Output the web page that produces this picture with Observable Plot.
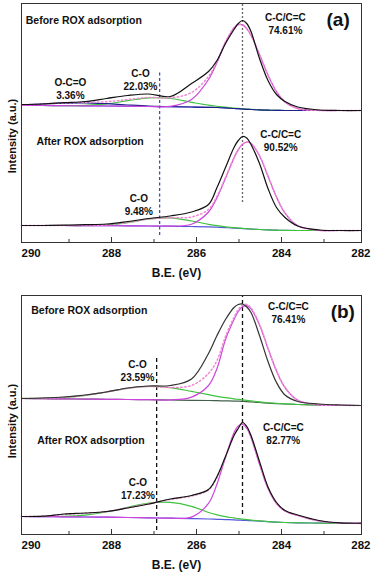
<!DOCTYPE html>
<html><head><meta charset="utf-8">
<script src="https://cdn.jsdelivr.net/npm/d3@7"></script>
<script src="https://cdn.jsdelivr.net/npm/@observablehq/plot@0.6"></script>
<style>
body{margin:0;background:#fff;}
#chart{width:373px;}
#chart svg{display:block;}
#chart svg + svg{margin-top:12px;}
</style></head><body><div id="chart"></div>
<script>
// ---- data (binding energy in eV, intensity in arbitrary units) ----
const BE = [290, 289.5, 289, 288.5, 288, 287.5, 287, 286.5, 286, 285.6, 285.4, 285.2, 285.0, 284.9, 284.8, 284.7, 284.6, 284.4, 284.2, 284.0, 283.8, 283.5, 283, 282.5, 282];
const innerTicks = [288, 286, 284];
const firstTick = [290];
const lastTick = [282];
const minorTicks = [289, 287, 285, 283];

// (a) before ROX adsorption
const aBeforeBg  = [137, 137, 136.8, 136.7, 136.5, 136.3, 136, 135.8, 135.5, 135.2, 135, 134.6, 134, 133.8, 133.5, 133.2, 133, 132.6, 132.3, 132.1, 132, 132, 132, 132, 132];
const aBeforeCC  = [137, 137, 136.8, 136.7, 136.5, 136.3, 136, 136.1, 143, 163, 180, 200, 214.6, 217.9, 217.6, 213.8, 207.2, 188, 167.4, 150.9, 140.5, 133.9, 132.1, 132, 132];
const aBeforeCO  = [137, 137, 136.9, 137.2, 138.6, 141.8, 144.6, 144, 140.2, 137.3, 136.2, 135.3, 134.3, 134.05, 133.65, 133.3, 133.06, 132.63, 132.3, 132.1, 132, 132, 132, 132, 132];
const aBeforeOCO = [137.65, 138.6, 139.4, 139.7, 138.8, 137.5, 136.4, 135.9, 135.5, 135.2, 135, 134.6, 134, 133.8, 133.5, 133.2, 133, 132.6, 132.3, 132.1, 132, 132, 132, 132, 132];
const aBeforeFit = [137.65, 138.6, 139.5, 140.2, 140.8, 143, 145, 144.6, 150, 166, 181.2, 200.7, 214.9, 218.1, 217.75, 213.9, 207.3, 188, 167.4, 150.9, 140.5, 133.9, 132.1, 132, 132];
const aBeforeExp = [138, 138.5, 139.8, 141, 144, 147, 148.5, 146, 159, 171, 182, 199, 213, 219, 222, 219, 211, 184, 162, 148, 141, 135.5, 132.5, 132, 132];

// (a) after ROX adsorption
const aAfterBg  = [17, 17, 17, 16.9, 16.8, 16.7, 16.5, 16.3, 16, 15.6, 15.3, 14.9, 14.4, 14.2, 13.9, 13.7, 13.4, 13, 12.6, 12.3, 12.1, 12, 12, 12, 12];
const aAfterCC  = [17, 17, 17, 16.9, 16.8, 16.7, 16.5, 16.4, 18.3, 30.5, 44.8, 64.3, 84.5, 92.7, 98.1, 100.5, 99.1, 86.7, 66.3, 45.4, 29.4, 16.8, 12.2, 12, 12];
const aAfterCO  = [17, 17, 17, 17, 17.6, 19.9, 23.5, 24.6, 21.5, 18.2, 16.8, 15.7, 14.8, 14.5, 14.1, 13.8, 13.5, 13, 12.6, 12.3, 12.1, 12, 12, 12, 12];
const aAfterFit = [17, 17, 17, 17, 17.6, 19.9, 23.5, 24.7, 25.5, 33.1, 46.3, 65.1, 84.9, 93, 98.3, 100.6, 99.2, 86.7, 66.3, 45.4, 29.4, 16.8, 12.2, 12, 12];
const aAfterExp = [17, 17, 17.3, 17.8, 18.5, 21, 24, 26.5, 30.5, 38, 55, 75, 95, 102, 106, 104.5, 98, 79, 54, 35, 25, 16.5, 12.5, 12, 12];

// (b) before ROX adsorption
const bBeforeBg  = [136, 135.8, 135.6, 135.4, 135.2, 135, 134.8, 134.5, 134.2, 134, 133.8, 133.6, 133.4, 133.3, 133.1, 132.9, 132.6, 132, 131.4, 130.9, 130.5, 130, 129.5, 129.2, 129];
const bBeforeCC  = [136, 135.8, 135.6, 135.4, 135.2, 135, 134.8, 134.6, 137.4, 149, 166, 195, 214.9, 223, 227.8, 228.9, 225.7, 209.6, 186, 163.5, 146.9, 134.3, 129.7, 129.2, 129];
const bBeforeCO  = [136.1, 136.3, 137.1, 139.1, 142.5, 146.2, 148.1, 146.9, 143.1, 139.8, 138.2, 136.8, 135.6, 135.1, 134.6, 134.1, 133.6, 132.6, 131.75, 131.1, 130.6, 130, 129.5, 129.2, 129];
const bBeforeFit = [136.1, 136.3, 137.1, 139.1, 142.5, 146.2, 148.1, 147, 149, 161, 174, 198, 217.1, 224.8, 229.3, 230.1, 226.7, 210.2, 186.4, 163.7, 147, 134.3, 129.7, 129.2, 129];
const bBeforeExp = [136, 136.5, 137.5, 139.5, 142.5, 146.5, 148.5, 149, 155.5, 181, 199, 215, 227, 230, 230.5, 227.5, 222, 199, 173, 152, 139.5, 133, 130.5, 129.5, 129];

// (b) after ROX adsorption
const bAfterBg  = [18, 17.9, 17.7, 17.5, 17.3, 17, 16.7, 16.3, 15.9, 15.5, 15.2, 14.9, 14.6, 14.4, 14.2, 14, 13.8, 13.3, 12.8, 12.3, 12, 11.7, 11.4, 11.2, 11];
const bAfterCC  = [18, 17.9, 17.7, 17.5, 17.3, 17, 16.7, 16.3, 17.4, 31.2, 50.5, 77.3, 101.8, 108.6, 110.1, 106, 96.9, 70.1, 46, 31, 23.5, 19, 13.5, 11.5, 11.1];
const bAfterCO  = [18, 18, 18.2, 19.4, 22.5, 27.2, 31.5, 32.1, 28.2, 22, 19.7, 17.9, 16.6, 15.9, 15.3, 14.8, 14.4, 13.6, 12.8, 12.3, 12, 11.7, 11.4, 11.2, 11];
const bAfterFit = [18, 18.2, 20, 21.2, 22.8, 26.8, 30.8, 35, 38.5, 44.5, 57, 77.5, 99.5, 107, 111, 107, 98, 71, 46.5, 31.5, 23.5, 19, 13.5, 11.5, 11.1];
const bAfterExp = [18, 18.3, 20.5, 21.5, 23, 26.5, 30.5, 35.5, 39, 45, 58, 78, 99, 106, 112, 108, 99, 73, 47.5, 32, 24, 19.5, 14, 11.6, 11.3];

// reference peak positions (eV) and their vertical extents
const aRefCO = [{x: 286.75, y1: 7, y2: 172}];
const aRefCC = [{x: 284.8, y1: 40, y2: 239}];
const bRefCO = [{x: 286.82, y1: 4, y2: 179}];
const bRefCC = [{x: 284.8, y1: 20, y2: 239}];

// texts
const xTitle = "B.E. (eV)";
const yTitle = "Intensity (a.u.)";
const beforeText = "Before ROX adsorption";
const afterText = "After ROX adsorption";

// ---- drawing ----
const FONT = "'Liberation Sans', Arial, Helvetica, sans-serif";
const COLORS = {exp: "#111111", fit: "#f08ad0", cc: "#cc44dd", co: "#3fc23f", oco: "#202088", bg: "#5656dd"};
const tickText = {fontSize: 11.5, fontWeight: "bold", fill: "#111", frameAnchor: "bottom", lineAnchor: "top", dy: 6};

function toRows(arr) { return arr.map((v, i) => ({x: BE[i], y: v})); }

function curve(arr, stroke, extra = {}) {
  return Plot.line(toRows(arr), {x: "x", y: "y", curve: "catmull-rom", stroke, strokeWidth: 1.2, ...extra});
}

function label(text, x, y, extra = {}) {
  return Plot.text([text], {x: () => x, y: () => y, text: d => d, fontSize: 10, fontWeight: "bold", fill: "#111", lineHeight: 1.3, lineAnchor: "middle", ...extra});
}

function panel({tag, tagX, tagY, curves, refCO, refCOColor, refCODash, refCC, refCCColor, refCCDash, annotations}) {
  return Plot.plot({
    width: 373, height: 280,
    marginLeft: 21, marginRight: 12, marginTop: 3, marginBottom: 38,
    style: {fontFamily: FONT, background: "white", overflow: "visible", color: "#111"},
    x: {domain: [290, 282], axis: null},
    y: {domain: [0, 239], axis: null},
    marks: [
      Plot.ruleX(refCO, {x: "x", y1: "y1", y2: "y2", stroke: refCOColor, strokeWidth: 1.3, strokeDasharray: refCODash}),
      Plot.ruleX(refCC, {x: "x", y1: "y1", y2: "y2", stroke: refCCColor, strokeWidth: 1.3, strokeDasharray: refCCDash}),
      ...curves,
      Plot.frame({stroke: "#333", strokeWidth: 1}),
      Plot.tickX(innerTicks, {x: d => d, dx: 5, stroke: "#333", insetTop: 234}),
      Plot.tickX(minorTicks, {x: d => d, dx: 5, stroke: "#333", insetTop: 236}),
      Plot.text(innerTicks, {x: d => d, text: d => String(d), dx: 5, ...tickText}),
      Plot.text(firstTick, {x: d => d, text: d => String(d), textAnchor: "start", ...tickText}),
      Plot.text(lastTick, {x: d => d, text: d => String(d), textAnchor: "end", dx: 9, ...tickText}),
      Plot.text([xTitle], {frameAnchor: "bottom", dy: 31, dx: -15, lineAnchor: "middle", fontSize: 12, fontWeight: "bold", fill: "#111"}),
      Plot.text([yTitle], {frameAnchor: "left", rotate: -90, textAnchor: "middle", lineAnchor: "middle", dx: -9, dy: tag === "(a)" ? 13 : 6, fontSize: 11, fontWeight: "bold", fill: "#111"}),
      label(tag, tagX, tagY, {fontSize: 19}),
      ...annotations
    ]
  });
}

const chartA = panel({
  tag: "(a)", tagX: 282.55, tagY: 224,
  curves: [
    curve(aBeforeBg, COLORS.bg),
    curve(aBeforeCO, COLORS.co),
    curve(aBeforeOCO, COLORS.oco),
    curve(aBeforeCC, COLORS.cc),
    curve(aBeforeFit, COLORS.fit, {strokeDasharray: "1.5,2.5", strokeWidth: 1.5}),
    curve(aBeforeExp, COLORS.exp),
    curve(aAfterBg, COLORS.bg),
    curve(aAfterCO, COLORS.co),
    curve(aAfterCC, COLORS.cc),
    curve(aAfterFit, COLORS.fit, {strokeDasharray: "1.5,2.5", strokeWidth: 1.5}),
    curve(aAfterExp, COLORS.exp)
  ],
  refCO: aRefCO, refCOColor: "#3a4fb8", refCODash: "3,2.5",
  refCC: aRefCC, refCCColor: "#666", refCCDash: "2,2",
  annotations: [
    label(beforeText, 289.9, 223, {textAnchor: "start", fontSize: 10.5}),
    label("C-C/C=C\n74.61%", 283.79, 219.5),
    label("O-C=O\n3.36%", 288.85, 153.7),
    label("C-O\n22.03%", 287.2, 163.3),
    label(afterText, 289.65, 102, {textAnchor: "start", fontSize: 10.5}),
    label("C-C/C=C\n90.52%", 283.9, 102.5),
    label("C-O\n9.48%", 287.24, 38.3)
  ]
});

const chartB = panel({
  tag: "(b)", tagX: 282.44, tagY: 224.7,
  curves: [
    curve(bBeforeBg, "#44604a"),
    curve(bBeforeCO, COLORS.co),
    curve(bBeforeCC, COLORS.cc),
    curve(bBeforeFit, COLORS.fit, {strokeDasharray: "1.5,2.5", strokeWidth: 1.5}),
    curve(bBeforeExp, "#333"),
    curve(bAfterBg, COLORS.bg),
    curve(bAfterCO, COLORS.co),
    curve(bAfterCC, COLORS.cc),
    curve(bAfterFit, COLORS.fit, {strokeDasharray: "1.5,2.5", strokeWidth: 1.5}),
    curve(bAfterExp, COLORS.exp)
  ],
  refCO: bRefCO, refCOColor: "#111", refCODash: "4,3",
  refCC: bRefCC, refCCColor: "#111", refCCDash: "4,3",
  annotations: [
    label(beforeText, 289.77, 224.7, {textAnchor: "start", fontSize: 10.5}),
    label("C-C/C=C\n76.41%", 283.72, 222.3),
    label("C-O\n23.59%", 287.27, 164),
    label(afterText, 289.63, 94.7, {textAnchor: "start", fontSize: 10.5}),
    label("C-C/C=C\n82.77%", 283.84, 101.5),
    label("C-O\n17.23%", 287.26, 45.7)
  ]
});

const host = document.getElementById("chart");
host.appendChild(chartA);
host.appendChild(chartB);
</script></body></html>
